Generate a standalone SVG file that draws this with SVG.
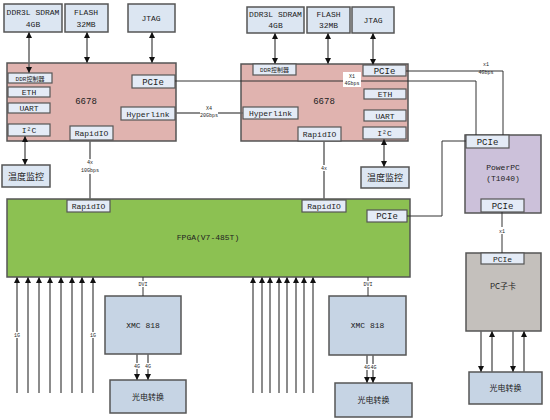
<svg xmlns="http://www.w3.org/2000/svg" width="550" height="420" viewBox="0 0 550 420">
<defs>
<marker id="ah" viewBox="0 0 10 10" refX="10" refY="5" markerWidth="6" markerHeight="7" markerUnits="userSpaceOnUse" orient="auto-start-reverse"><path d="M0,0 L10,5 L0,10z" fill="#111"/></marker>
</defs>
<style>
.b{stroke:#555;stroke-width:1.5}
.top{fill:#dce6f2}
.dsp{fill:#e0b3af}
.sub{fill:#e4ebf6;stroke:#555;stroke-width:1.2}
.fpga{fill:#8cc152}
.ppc{fill:#ccc1da}
.pc{fill:#c4c0bc}
.xmc{fill:#c6d4e4}
text{font-family:"Liberation Mono","Noto Sans CJK SC",monospace;font-size:9px;fill:#222;text-anchor:middle}
.t8{font-size:8px}
.t6{font-size:6px}
.sm{font-size:5px}
.cj{font-family:"Noto Sans CJK SC",sans-serif}
.ar{stroke:#666;stroke-width:1.5;fill:none}
.cn{stroke:#333;stroke-width:1;fill:none}
.lb{fill:#fff}
</style>
<rect width="550" height="420" fill="#fff"/>

<g id="ddr-l"><rect class="b top" x="4" y="4" width="58" height="28"/><text class="t8" x="33" y="15">DDR3L SDRAM</text><text class="t8" x="33" y="27">4GB</text></g>
<g id="flash-l"><rect class="b top" x="65" y="4" width="43" height="28"/><text class="t8" x="86" y="15">FLASH</text><text class="t8" x="86" y="27">32MB</text></g>
<g id="jtag-l"><rect class="b top" x="128" y="4" width="47" height="28"/><text class="t8" x="151" y="21">JTAG</text></g>

<g id="dsp-l"><rect class="b dsp" x="7" y="63" width="169" height="78"/><text x="86" y="104">6678</text></g>
<g id="ddrc-l"><rect class="sub" x="8" y="73" width="44" height="10"/><text class="t6" x="30" y="80.5">DDR控制器</text></g>
<g id="eth-l"><rect class="sub" x="8" y="87" width="42" height="10"/><text class="t8" x="29" y="95">ETH</text></g>
<g id="uart-l"><rect class="sub" x="8" y="103" width="42" height="10"/><text class="t8" x="29" y="111">UART</text></g>
<g id="i2c-l"><rect class="sub" x="8" y="124" width="42" height="12"/><text class="t8" x="29" y="133">I²C</text></g>
<g id="pcie-l"><rect class="sub" x="132" y="75" width="43" height="13"/><text x="153" y="85">PCIe</text></g>
<g id="hl-l"><rect class="sub" x="121" y="107" width="54" height="13"/><text class="t8" x="148" y="116.5">Hyperlink</text></g>
<g id="rio-l"><rect class="sub" x="70" y="126" width="43" height="14"/><text class="t8" x="91.5" y="136">RapidIO</text></g>
<g id="temp-l"><rect class="b top" x="2" y="165" width="48" height="22"/><text class="cj" x="26" y="179.5">温度监控</text></g>

<g id="ddr-r"><rect class="b top" x="247" y="7" width="57" height="26"/><text class="t8" x="275.5" y="17">DDR3L SDRAM</text><text class="t8" x="275.5" y="28">4GB</text></g>
<g id="flash-r"><rect class="b top" x="307" y="7" width="43" height="26"/><text class="t8" x="328.5" y="17">FLASH</text><text class="t8" x="328.5" y="28">32MB</text></g>
<g id="jtag-r"><rect class="b top" x="352" y="7" width="42" height="26"/><text class="t8" x="373" y="23">JTAG</text></g>

<g id="dsp-r"><rect class="b dsp" x="241" y="64" width="167" height="77"/><text x="324" y="104">6678</text></g>
<g id="ddrc-r"><rect class="sub" x="253" y="64" width="43" height="11"/><text class="t6" x="274.5" y="72">DDR控制器</text></g>
<g id="pcie-r"><rect class="sub" x="363" y="65" width="43" height="11"/><text x="384.5" y="74">PCIe</text></g>
<g id="eth-r"><rect class="sub" x="364" y="89" width="42" height="10"/><text class="t8" x="385" y="97">ETH</text></g>
<g id="uart-r"><rect class="sub" x="364" y="110" width="42" height="11"/><text class="t8" x="385" y="118.5">UART</text></g>
<g id="i2c-r"><rect class="sub" x="363" y="127" width="43" height="12"/><text class="t8" x="384.5" y="136">I²C</text></g>
<g id="hl-r"><rect class="sub" x="243" y="107" width="55" height="12"/><text class="t8" x="270.5" y="116">Hyperlink</text></g>
<g id="rio-r"><rect class="sub" x="298" y="127" width="43" height="14"/><text class="t8" x="319.5" y="137">RapidIO</text></g>
<g id="temp-r"><rect class="b top" x="361" y="167" width="48" height="21"/><text class="cj" x="385" y="181">温度监控</text></g>

<g id="fpga"><rect class="b fpga" x="7" y="199" width="403" height="78"/><text class="t8" x="208" y="240">FPGA(V7-485T)</text></g>
<g id="rio-fl"><rect class="sub" x="67" y="200" width="43" height="12"/><text class="t8" x="88.5" y="209">RapidIO</text></g>
<g id="rio-fr"><rect class="sub" x="302" y="200" width="44" height="12"/><text class="t8" x="324" y="209">RapidIO</text></g>
<g id="pcie-f"><rect class="sub" x="367" y="210" width="40" height="12"/><text x="387" y="219">PCIe</text></g>

<g id="ppc"><rect class="b ppc" x="465" y="135" width="76" height="78"/><text class="t8" x="503" y="170">PowerPC</text><text class="t8" x="503" y="181">(T1040)</text></g>
<g id="pcie-p1"><rect class="sub" x="466" y="135" width="43" height="13"/><text x="487.5" y="145">PCIe</text></g>
<g id="pcie-p2"><rect class="sub" x="481" y="199" width="43" height="13"/><text x="502.5" y="209">PCIe</text></g>

<g id="pccard"><rect class="b pc" x="466" y="253" width="75" height="78"/><text class="cj t8" x="503" y="289">PC子卡</text></g>
<g id="pcie-pc"><rect class="sub" x="481" y="253" width="43" height="11"/><text class="t8" x="502.5" y="261.5">PCIe</text></g>
<g id="oe-r"><rect class="b xmc" x="469" y="372" width="73" height="32"/><text class="cj t8" x="505.5" y="391">光电转换</text></g>

<g id="xmc-l"><rect class="b xmc" x="105" y="296" width="76" height="58"/><text class="t8" x="143" y="328">XMC 818</text></g>
<g id="oe-l"><rect class="b xmc" x="110" y="380" width="76" height="33"/><text class="cj t8" x="148" y="399.5">光电转换</text></g>
<g id="xmc-r"><rect class="b xmc" x="329" y="296" width="77" height="59"/><text class="t8" x="367.5" y="327.5">XMC 818</text></g>
<g id="oe-r2"><rect class="b xmc" x="335" y="383" width="77" height="34"/><text class="cj t8" x="373.5" y="403">光电转换</text></g>

<g id="connectors">
<line class="ar" x1="29" y1="32" x2="29" y2="73" marker-start="url(#ah)" marker-end="url(#ah)"/>
<line class="ar" x1="87" y1="32" x2="87" y2="63" marker-start="url(#ah)" marker-end="url(#ah)"/>
<line class="ar" x1="152" y1="32" x2="152" y2="63" marker-start="url(#ah)" marker-end="url(#ah)"/>
<line class="ar" x1="25" y1="136" x2="25" y2="165" marker-start="url(#ah)" marker-end="url(#ah)"/>
<line class="ar" x1="275" y1="33" x2="275" y2="64" marker-start="url(#ah)" marker-end="url(#ah)"/>
<line class="ar" x1="328" y1="33" x2="328" y2="64" marker-start="url(#ah)" marker-end="url(#ah)"/>
<line class="ar" x1="373" y1="33" x2="373" y2="65" marker-start="url(#ah)" marker-end="url(#ah)"/>
<line class="ar" x1="384" y1="139" x2="384" y2="167" marker-start="url(#ah)" marker-end="url(#ah)"/>

<path class="ar" d="M90,140 V199"/>
<rect class="lb" x="81" y="159" width="18" height="15" fill-opacity="0.9"/>
<text class="sm" x="90" y="164">4x</text><text class="sm" x="90" y="172">10Gbps</text>

<path class="ar" d="M324,141 V200"/>
<rect class="lb" x="319" y="165" width="10" height="6"/>
<text class="sm" x="324" y="170">4x</text>

<path class="cn" d="M175,81 H476 V135"/>
<rect class="lb" x="343" y="72" width="18" height="15"/>
<text class="sm" x="352" y="78">X1</text><text class="sm" x="352" y="85">4Gbps</text>

<path class="cn" d="M406,71 H503 V135"/>
<text class="sm" x="486" y="66">x1</text><text class="sm" x="486" y="74">4Gbps</text>

<path class="ar" d="M175,113 H243"/>
<rect class="lb" x="200" y="104" width="18" height="15"/>
<text class="sm" x="209" y="110">X4</text><text class="sm" x="209" y="117">20Gbps</text>

<path class="cn" d="M407,216 H442 V141 H466"/>

<path class="cn" d="M502,212 V253"/>
<rect class="lb" x="498" y="227" width="8" height="7"/>
<text class="sm" x="502" y="233">x1</text>

<line class="ar" x1="481" y1="331" x2="481" y2="372" marker-end="url(#ah)"/>
<line class="ar" x1="492" y1="372" x2="492" y2="331" marker-end="url(#ah)"/>
<line class="ar" x1="513" y1="331" x2="513" y2="372" marker-end="url(#ah)"/>
<line class="ar" x1="524" y1="372" x2="524" y2="331" marker-end="url(#ah)"/>

<g class="ar">
<line x1="17" y1="393" x2="17" y2="277" marker-end="url(#ah)"/>
<line x1="28" y1="393" x2="28" y2="277" marker-end="url(#ah)"/>
<line x1="39" y1="393" x2="39" y2="277" marker-end="url(#ah)"/>
<line x1="50" y1="393" x2="50" y2="277" marker-end="url(#ah)"/>
<line x1="61" y1="393" x2="61" y2="277" marker-end="url(#ah)"/>
<line x1="72" y1="393" x2="72" y2="277" marker-end="url(#ah)"/>
<line x1="82" y1="393" x2="82" y2="277" marker-end="url(#ah)"/>
<line x1="93" y1="393" x2="93" y2="277" marker-end="url(#ah)"/>
<line x1="253" y1="393" x2="253" y2="277" marker-end="url(#ah)"/>
<line x1="262" y1="393" x2="262" y2="277" marker-end="url(#ah)"/>
<line x1="270" y1="393" x2="270" y2="277" marker-end="url(#ah)"/>
<line x1="279" y1="393" x2="279" y2="277" marker-end="url(#ah)"/>
<line x1="287" y1="393" x2="287" y2="277" marker-end="url(#ah)"/>
<line x1="296" y1="393" x2="296" y2="277" marker-end="url(#ah)"/>
<line x1="304" y1="393" x2="304" y2="277" marker-end="url(#ah)"/>
<line x1="313" y1="393" x2="313" y2="277" marker-end="url(#ah)"/>
</g>
<rect class="lb" x="13" y="332" width="8" height="6"/>
<text class="sm" x="17" y="337">1G</text>
<rect class="lb" x="89" y="332" width="8" height="6"/>
<text class="sm" x="93" y="337">1G</text>

<path class="cn" d="M143,277 V296"/>
<rect class="lb" x="138" y="281" width="10" height="6"/>
<text class="sm" x="143" y="286">DVI</text>
<path class="cn" d="M368,277 V296"/>
<rect class="lb" x="363" y="281" width="10" height="6"/>
<text class="sm" x="368" y="286">DVI</text>

<line class="ar" x1="137" y1="354" x2="137" y2="380" marker-end="url(#ah)"/>
<line class="ar" x1="148" y1="354" x2="148" y2="380" marker-end="url(#ah)"/>
<rect class="lb" x="133" y="363" width="19" height="6"/>
<text class="sm" x="137" y="368">4G</text><text class="sm" x="148" y="368">4G</text>

<line class="ar" x1="367" y1="355" x2="367" y2="383" marker-end="url(#ah)"/>
<line class="ar" x1="373" y1="355" x2="373" y2="383" marker-end="url(#ah)"/>
<rect class="lb" x="363" y="364" width="14" height="6"/>
<text class="sm" x="367" y="369">4G</text><text class="sm" x="373.5" y="369">4G</text>
</g>
</svg>
